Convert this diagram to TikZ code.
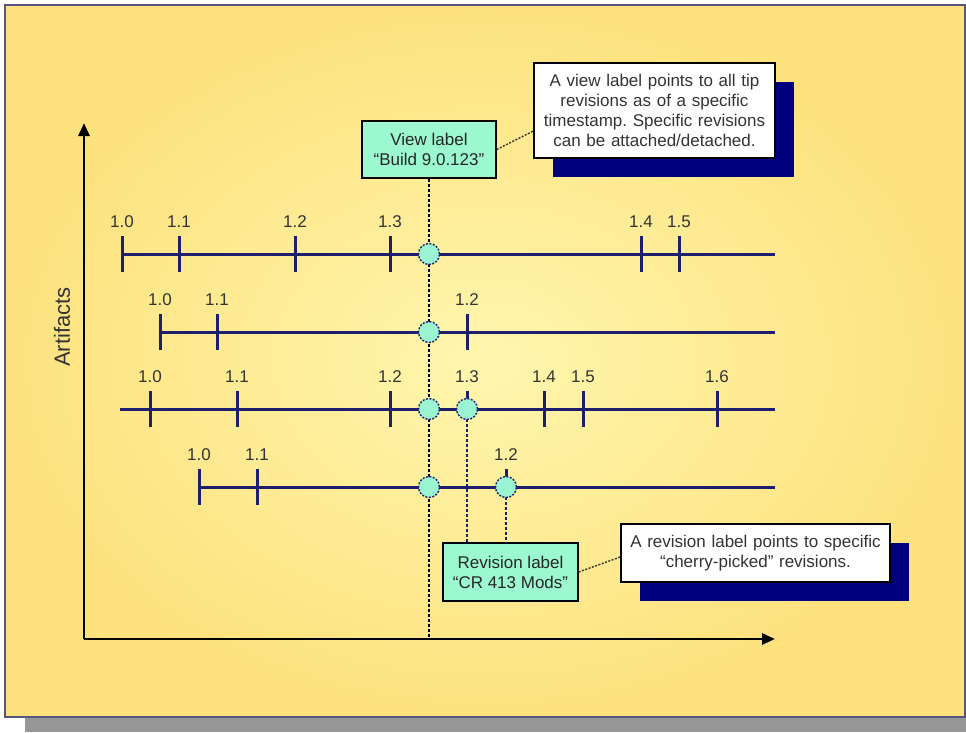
\documentclass[tikz,border=0pt]{standalone}
\usepackage{fontspec}
\setmainfont{Liberation Sans}
\usetikzlibrary{arrows.meta,shadows}

\definecolor{paneledge}{HTML}{55557F}
\definecolor{panelin}{HTML}{FFF6AE}
\definecolor{panelout}{HTML}{FDE27E}
\definecolor{navyline}{HTML}{1E1E6E}
\definecolor{mint}{HTML}{9CF5D2}
\definecolor{boxmint}{HTML}{9CF8CE}
\definecolor{shadownavy}{HTML}{00007E}
\definecolor{txt}{HTML}{333333}
\definecolor{panelshadow}{HTML}{979797}

\tikzset{
  small/.style={font=\fontsize{17}{20}\selectfont\frenchspacing},
  tl/.style={draw=navyline, line width=3pt},
  ticklabel/.style={small, text=txt, inner sep=0pt},
  pincircle/.style={circle, minimum size=21pt, inner sep=0pt, fill=mint,
    draw=navyline, line width=1.4pt, dash pattern=on 2pt off 1.5pt},
  labelbox/.style={draw=black, line width=1.4pt, fill=boxmint, small,
    text=black!85, align=center, inner sep=0pt},
  notebox/.style={draw=black, line width=1.4pt, fill=white, small, text=txt,
    align=center, inner sep=0pt,
    drop shadow={shadow xshift=19pt, shadow yshift=-19pt, fill=shadownavy, opacity=1}},
  leader/.style={draw=black!80, line width=1.4pt, dash pattern=on 2pt off 1.5pt},
  viewline/.style={draw=black, line width=2.6pt, dash pattern=on 3pt off 2pt},
  revline/.style={draw=navyline, line width=2.8pt, dash pattern=on 3pt off 2pt},
  axis/.style={draw=black, line width=2.8pt, -{Triangle[length=13pt,width=11pt]}},
}

\begin{document}
\begin{tikzpicture}[x=1pt,y=-1pt]
\useasboundingbox (0,0) rectangle (966,732);

% slide panel with its drop shadow
\fill[panelshadow] (25,20) rectangle (966,732);
\shade[inner color=panelin, outer color=panelout] (5,5) rectangle (965,717);
\draw[paneledge, line width=2pt] (5,5) rectangle (965,717);

% axes
\coordinate (origin) at (84,639);
\coordinate (ytop) at (84,123);
\coordinate (xend) at (775,639);
\draw[axis] (origin) -- (ytop);
\draw[axis] (origin) -- (xend);
\node[font=\fontsize{22}{26}\selectfont, text=txt, rotate=90] (artifacts) at (62,327) {Artifacts};

% label boxes and notes
\node[labelbox, minimum width=134pt, minimum height=57pt] (view) at (429,149.5)
  {View label\\“Build 9.0.123”};
\node[labelbox, minimum width=135pt, minimum height=58pt] (rev) at (510.5,572)
  {Revision label\\“CR 413 Mods”};
\node[notebox, minimum width=241pt, minimum height=95pt, text width=235pt] (note1) at (654.5,110.5)
  {A view label points to all tip\\revisions as of a specific\\timestamp. Specific revisions\\can be attached/detached.};
\node[notebox, minimum width=269pt, minimum height=58pt, text width=262pt] (note2) at (755.5,553)
  {A revision label points to specific\\“cherry-picked” revisions.};

\draw[leader] (view.east) -- ([yshift=-20.5pt]note1.west);
\draw[leader] (rev.east) -- ([yshift=-4pt]note2.west);

% timeline rows
\coordinate (r1s) at (122,254); \coordinate (r1e) at (775,254);
\coordinate (r2s) at (160,332); \coordinate (r2e) at (775,332);
\coordinate (r3s) at (120,409); \coordinate (r3e) at (775,409);
\coordinate (r4s) at (199,487); \coordinate (r4e) at (775,487);
\draw[tl] (r1s) -- (r1e);
\draw[tl] (r2s) -- (r2e);
\draw[tl] (r3s) -- (r3e);
\draw[tl] (r4s) -- (r4e);

% revision ticks with their numbers
\foreach \x/\y/\t in {122/254/1.0, 179/254/1.1, 295/254/1.2, 390/254/1.3, 641/254/1.4, 679/254/1.5,
                      160/332/1.0, 217/332/1.1, 467/332/1.2,
                      150/409/1.0, 237/409/1.1, 390/409/1.2, 544/409/1.4, 583/409/1.5, 717/409/1.6,
                      199/487/1.0, 257/487/1.1}{
  \draw[tl] (\x,\y-18) -- (\x,\y+18);
  \node[ticklabel] at (\x,\y-32) {\t};
}
% cherry-picked revisions: upper half tick only
\foreach \x/\y/\t in {467/409/1.3, 506/487/1.2}{
  \draw[tl] (\x,\y-18) -- (\x,\y);
  \node[ticklabel] at (\x,\y-32) {\t};
}

% view label line and revision label lines
\coordinate (vbot) at (429,639);
\draw[viewline] (view.south) -- (vbot);
\draw[revline] (467,409) -- (467,543);
\draw[revline] (506,487) -- (506,543);

% attached revisions
\node[pincircle] (v1) at (429,254) {};
\node[pincircle] (v2) at (429,332) {};
\node[pincircle] (v3) at (429,409) {};
\node[pincircle] (v4) at (429,487) {};
\node[pincircle] (c3) at (467,409) {};
\node[pincircle] (c4) at (506,487) {};
\end{tikzpicture}
\end{document}
